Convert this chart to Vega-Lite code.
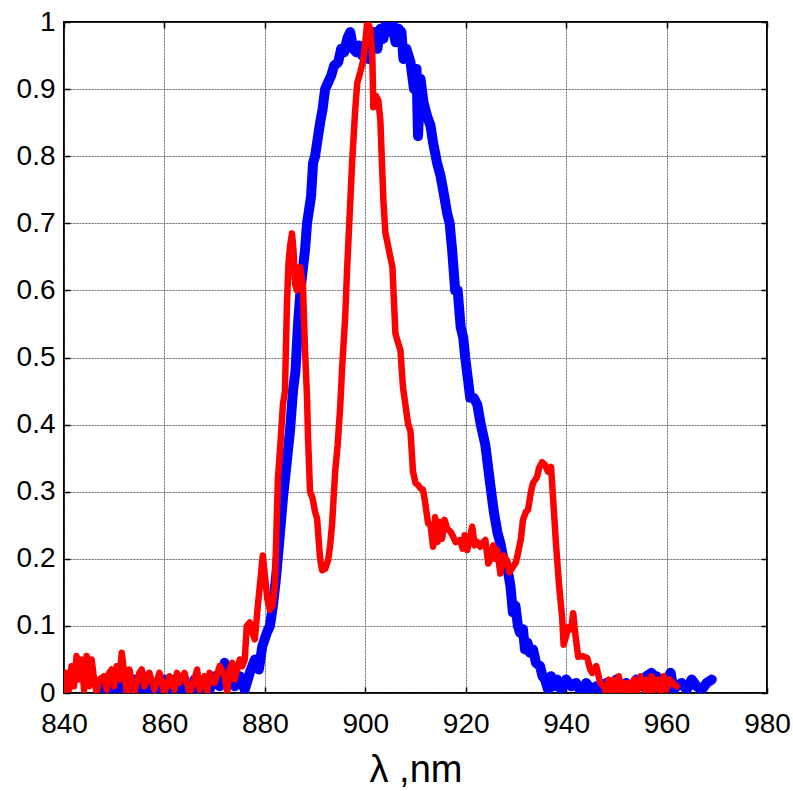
{
  "$schema": "https://vega.github.io/schema/vega-lite/v6.json",
  "width": 703,
  "height": 671,
  "autosize": "none",
  "padding": {"left": 64, "top": 22, "right": 26, "bottom": 98},
  "background": "white",
  "config": {
    "view": {"stroke": "#000000", "strokeWidth": 2},
    "font": "Liberation Sans",
    "axis": {
      "domain": false,
      "labelFont": "Liberation Sans",
      "labelFontSize": 28,
      "labelColor": "#000000",
      "tickColor": "#000000",
      "tickWidth": 1.5,
      "tickSize": -6,
      "gridColor": "#444444",
      "gridDash": [2, 1],
      "gridWidth": 0.8,
      "gridOpacity": 1,
      "titleFont": "Liberation Sans",
      "titleColor": "#000000",
      "titleFontWeight": "normal"
    }
  },
  "datasets": {
    "blue": [
      {"lambda": 847, "value": 0.0}, {"lambda": 848, "value": 0.02}, {"lambda": 849, "value": 0.005}, {"lambda": 850, "value": 0.02},
      {"lambda": 851, "value": 0.0}, {"lambda": 852, "value": 0.015}, {"lambda": 853, "value": 0.0}, {"lambda": 854, "value": 0.02},
      {"lambda": 855, "value": 0.005}, {"lambda": 856, "value": 0.025}, {"lambda": 857, "value": 0.0}, {"lambda": 858, "value": 0.015},
      {"lambda": 859, "value": 0.0}, {"lambda": 860, "value": 0.02}, {"lambda": 861, "value": 0.005}, {"lambda": 862, "value": 0.02},
      {"lambda": 863, "value": 0.0}, {"lambda": 864, "value": 0.015}, {"lambda": 865, "value": 0.005}, {"lambda": 866, "value": 0.02},
      {"lambda": 867, "value": 0.0}, {"lambda": 868, "value": 0.02}, {"lambda": 869, "value": 0.005}, {"lambda": 870, "value": 0.025},
      {"lambda": 871, "value": 0.01}, {"lambda": 872, "value": 0.045}, {"lambda": 873, "value": 0.02}, {"lambda": 874, "value": 0.01},
      {"lambda": 875, "value": 0.025}, {"lambda": 876, "value": 0.005}, {"lambda": 877, "value": 0.03}, {"lambda": 878, "value": 0.05},
      {"lambda": 878.8, "value": 0.035}, {"lambda": 879.5, "value": 0.07}, {"lambda": 880.4, "value": 0.09}, {"lambda": 881, "value": 0.1},
      {"lambda": 881.6, "value": 0.13}, {"lambda": 882.2, "value": 0.17}, {"lambda": 882.8, "value": 0.22}, {"lambda": 883.6, "value": 0.29},
      {"lambda": 884.3, "value": 0.34}, {"lambda": 885, "value": 0.39}, {"lambda": 885.6, "value": 0.45}, {"lambda": 886.1, "value": 0.48},
      {"lambda": 886.6, "value": 0.55}, {"lambda": 887.1, "value": 0.6}, {"lambda": 887.6, "value": 0.635}, {"lambda": 888, "value": 0.66},
      {"lambda": 888.4, "value": 0.7}, {"lambda": 888.8, "value": 0.72}, {"lambda": 889.2, "value": 0.74}, {"lambda": 889.6, "value": 0.79},
      {"lambda": 890, "value": 0.8}, {"lambda": 890.6, "value": 0.83}, {"lambda": 891, "value": 0.85}, {"lambda": 891.5, "value": 0.87},
      {"lambda": 892, "value": 0.9}, {"lambda": 892.6, "value": 0.91}, {"lambda": 893.2, "value": 0.92}, {"lambda": 893.8, "value": 0.935},
      {"lambda": 894.6, "value": 0.94}, {"lambda": 895.2, "value": 0.96}, {"lambda": 895.8, "value": 0.955}, {"lambda": 896.4, "value": 0.975},
      {"lambda": 897, "value": 0.985}, {"lambda": 897.6, "value": 0.96}, {"lambda": 898.2, "value": 0.955}, {"lambda": 898.8, "value": 0.965},
      {"lambda": 899.4, "value": 0.95}, {"lambda": 900, "value": 0.96}, {"lambda": 900.6, "value": 0.945}, {"lambda": 901.2, "value": 0.97},
      {"lambda": 901.8, "value": 0.985}, {"lambda": 902.4, "value": 0.96}, {"lambda": 903, "value": 0.99}, {"lambda": 903.6, "value": 0.975},
      {"lambda": 904.2, "value": 1.0}, {"lambda": 904.8, "value": 0.985}, {"lambda": 905.4, "value": 1.0}, {"lambda": 906, "value": 0.97},
      {"lambda": 906.6, "value": 0.99}, {"lambda": 907.2, "value": 0.985}, {"lambda": 907.6, "value": 0.945}, {"lambda": 908.2, "value": 0.96},
      {"lambda": 909, "value": 0.94}, {"lambda": 909.7, "value": 0.9}, {"lambda": 910.2, "value": 0.93}, {"lambda": 910.5, "value": 0.83},
      {"lambda": 911, "value": 0.915}, {"lambda": 911.6, "value": 0.88}, {"lambda": 912.3, "value": 0.86}, {"lambda": 913, "value": 0.845},
      {"lambda": 913.5, "value": 0.82}, {"lambda": 914.3, "value": 0.79}, {"lambda": 915, "value": 0.77}, {"lambda": 915.5, "value": 0.75},
      {"lambda": 916.3, "value": 0.715}, {"lambda": 916.8, "value": 0.7}, {"lambda": 917.3, "value": 0.66}, {"lambda": 917.9, "value": 0.6},
      {"lambda": 918.4, "value": 0.6}, {"lambda": 919, "value": 0.545}, {"lambda": 919.5, "value": 0.53}, {"lambda": 919.9, "value": 0.5},
      {"lambda": 920.4, "value": 0.47}, {"lambda": 920.9, "value": 0.44}, {"lambda": 921.6, "value": 0.44}, {"lambda": 922.3, "value": 0.43},
      {"lambda": 923, "value": 0.4}, {"lambda": 923.9, "value": 0.37}, {"lambda": 924.4, "value": 0.34}, {"lambda": 924.9, "value": 0.31},
      {"lambda": 925.6, "value": 0.27}, {"lambda": 926.3, "value": 0.24}, {"lambda": 927, "value": 0.22}, {"lambda": 927.5, "value": 0.2},
      {"lambda": 928.2, "value": 0.19}, {"lambda": 928.9, "value": 0.16}, {"lambda": 929.4, "value": 0.12}, {"lambda": 929.9, "value": 0.13},
      {"lambda": 930.4, "value": 0.1}, {"lambda": 930.8, "value": 0.09}, {"lambda": 931.4, "value": 0.095}, {"lambda": 931.8, "value": 0.065},
      {"lambda": 932.3, "value": 0.075}, {"lambda": 932.8, "value": 0.06}, {"lambda": 933.4, "value": 0.065}, {"lambda": 934, "value": 0.045},
      {"lambda": 934.8, "value": 0.04}, {"lambda": 935.3, "value": 0.025}, {"lambda": 935.8, "value": 0.02}, {"lambda": 936.4, "value": 0.005},
      {"lambda": 937, "value": 0.025}, {"lambda": 937.6, "value": 0.01}, {"lambda": 938.2, "value": 0.02}, {"lambda": 939, "value": 0.005},
      {"lambda": 940, "value": 0.02}, {"lambda": 941, "value": 0.01}, {"lambda": 942, "value": 0.015}, {"lambda": 943, "value": 0.0},
      {"lambda": 944, "value": 0.015}, {"lambda": 945, "value": 0.005}, {"lambda": 946, "value": 0.01}, {"lambda": 947, "value": 0.0},
      {"lambda": 948, "value": 0.015}, {"lambda": 949, "value": 0.005}, {"lambda": 950, "value": 0.02}, {"lambda": 951, "value": 0.01},
      {"lambda": 952, "value": 0.015}, {"lambda": 953, "value": 0.005}, {"lambda": 954, "value": 0.02}, {"lambda": 955, "value": 0.01},
      {"lambda": 956, "value": 0.025}, {"lambda": 957, "value": 0.03}, {"lambda": 957.6, "value": 0.01}, {"lambda": 958, "value": 0.025},
      {"lambda": 959, "value": 0.01}, {"lambda": 960, "value": 0.02}, {"lambda": 960.8, "value": 0.03}, {"lambda": 961.4, "value": 0.005},
      {"lambda": 962, "value": 0.01}, {"lambda": 963, "value": 0.015}, {"lambda": 964, "value": 0.005}, {"lambda": 965, "value": 0.02},
      {"lambda": 966, "value": 0.01}, {"lambda": 967, "value": 0.005}, {"lambda": 968, "value": 0.015}, {"lambda": 969, "value": 0.02}
    ],
    "red": [
      {"lambda": 840, "value": 0.0}, {"lambda": 840.5, "value": 0.03}, {"lambda": 841, "value": 0.005}, {"lambda": 841.5, "value": 0.04},
      {"lambda": 842, "value": 0.01}, {"lambda": 842.5, "value": 0.055}, {"lambda": 843, "value": 0.02}, {"lambda": 843.5, "value": 0.05},
      {"lambda": 844, "value": 0.005}, {"lambda": 844.5, "value": 0.055}, {"lambda": 845, "value": 0.01}, {"lambda": 845.5, "value": 0.05},
      {"lambda": 846, "value": 0.02}, {"lambda": 846.5, "value": 0.0}, {"lambda": 847, "value": 0.02}, {"lambda": 848, "value": 0.025},
      {"lambda": 848.5, "value": 0.005}, {"lambda": 849, "value": 0.03}, {"lambda": 849.5, "value": 0.035}, {"lambda": 850, "value": 0.01},
      {"lambda": 850.5, "value": 0.04}, {"lambda": 851, "value": 0.02}, {"lambda": 851.5, "value": 0.06}, {"lambda": 852, "value": 0.03},
      {"lambda": 852.5, "value": 0.0}, {"lambda": 853, "value": 0.035}, {"lambda": 854, "value": 0.0}, {"lambda": 855, "value": 0.03},
      {"lambda": 855.5, "value": 0.035}, {"lambda": 856, "value": 0.01}, {"lambda": 857, "value": 0.03}, {"lambda": 858, "value": 0.005},
      {"lambda": 859, "value": 0.03}, {"lambda": 860, "value": 0.0}, {"lambda": 861, "value": 0.025}, {"lambda": 862, "value": 0.005},
      {"lambda": 862.5, "value": 0.03}, {"lambda": 863, "value": 0.015}, {"lambda": 864, "value": 0.03}, {"lambda": 865, "value": 0.0},
      {"lambda": 866, "value": 0.02}, {"lambda": 866.5, "value": 0.035}, {"lambda": 867, "value": 0.005}, {"lambda": 868, "value": 0.025},
      {"lambda": 868.5, "value": 0.0}, {"lambda": 869, "value": 0.03}, {"lambda": 870, "value": 0.015}, {"lambda": 871, "value": 0.04},
      {"lambda": 872, "value": 0.025}, {"lambda": 872.5, "value": 0.0}, {"lambda": 873, "value": 0.035}, {"lambda": 873.5, "value": 0.045},
      {"lambda": 874, "value": 0.02}, {"lambda": 875, "value": 0.05}, {"lambda": 875.5, "value": 0.04}, {"lambda": 876, "value": 0.05},
      {"lambda": 876.4, "value": 0.1}, {"lambda": 877, "value": 0.105}, {"lambda": 877.5, "value": 0.09}, {"lambda": 878, "value": 0.08},
      {"lambda": 878.6, "value": 0.13}, {"lambda": 879, "value": 0.16}, {"lambda": 879.6, "value": 0.205}, {"lambda": 880, "value": 0.175},
      {"lambda": 880.5, "value": 0.14}, {"lambda": 881, "value": 0.124}, {"lambda": 881.5, "value": 0.13}, {"lambda": 882, "value": 0.16},
      {"lambda": 882.3, "value": 0.24}, {"lambda": 882.6, "value": 0.32}, {"lambda": 883, "value": 0.36}, {"lambda": 883.6, "value": 0.43},
      {"lambda": 884, "value": 0.45}, {"lambda": 884.4, "value": 0.58}, {"lambda": 884.7, "value": 0.64}, {"lambda": 885, "value": 0.665},
      {"lambda": 885.4, "value": 0.685}, {"lambda": 885.7, "value": 0.66}, {"lambda": 886, "value": 0.61}, {"lambda": 886.4, "value": 0.6},
      {"lambda": 887, "value": 0.635}, {"lambda": 887.6, "value": 0.605}, {"lambda": 888, "value": 0.51}, {"lambda": 888.4, "value": 0.44},
      {"lambda": 888.6, "value": 0.38}, {"lambda": 889, "value": 0.3}, {"lambda": 889.5, "value": 0.29}, {"lambda": 890, "value": 0.27},
      {"lambda": 890.4, "value": 0.26}, {"lambda": 891, "value": 0.2}, {"lambda": 891.4, "value": 0.183}, {"lambda": 892, "value": 0.185},
      {"lambda": 892.6, "value": 0.198}, {"lambda": 893, "value": 0.22}, {"lambda": 893.4, "value": 0.253}, {"lambda": 894, "value": 0.33},
      {"lambda": 894.5, "value": 0.37}, {"lambda": 895, "value": 0.426}, {"lambda": 895.4, "value": 0.486}, {"lambda": 896, "value": 0.56},
      {"lambda": 896.4, "value": 0.635}, {"lambda": 897, "value": 0.73}, {"lambda": 897.4, "value": 0.794}, {"lambda": 898, "value": 0.87},
      {"lambda": 898.4, "value": 0.909}, {"lambda": 899, "value": 0.925}, {"lambda": 899.6, "value": 0.943}, {"lambda": 900, "value": 0.97},
      {"lambda": 900.4, "value": 1.0}, {"lambda": 901, "value": 0.99}, {"lambda": 901.4, "value": 0.95}, {"lambda": 901.6, "value": 0.873},
      {"lambda": 902.1, "value": 0.89}, {"lambda": 902.6, "value": 0.883}, {"lambda": 903, "value": 0.854}, {"lambda": 903.6, "value": 0.735},
      {"lambda": 904, "value": 0.686}, {"lambda": 905.4, "value": 0.635}, {"lambda": 906, "value": 0.536}, {"lambda": 906.4, "value": 0.525},
      {"lambda": 907, "value": 0.511}, {"lambda": 907.5, "value": 0.456}, {"lambda": 908.5, "value": 0.402}, {"lambda": 909, "value": 0.39},
      {"lambda": 909.5, "value": 0.33}, {"lambda": 910, "value": 0.313}, {"lambda": 910.5, "value": 0.31}, {"lambda": 911, "value": 0.305},
      {"lambda": 911.5, "value": 0.303}, {"lambda": 912, "value": 0.28}, {"lambda": 912.5, "value": 0.253}, {"lambda": 913, "value": 0.25},
      {"lambda": 913.5, "value": 0.218}, {"lambda": 913.9, "value": 0.262}, {"lambda": 914.4, "value": 0.225}, {"lambda": 914.8, "value": 0.255},
      {"lambda": 915.3, "value": 0.23}, {"lambda": 915.8, "value": 0.258}, {"lambda": 916.3, "value": 0.245}, {"lambda": 917, "value": 0.24},
      {"lambda": 917.5, "value": 0.233}, {"lambda": 918, "value": 0.225}, {"lambda": 918.9, "value": 0.228}, {"lambda": 919.4, "value": 0.215},
      {"lambda": 919.8, "value": 0.235}, {"lambda": 920.3, "value": 0.213}, {"lambda": 920.8, "value": 0.23}, {"lambda": 921.3, "value": 0.248},
      {"lambda": 921.8, "value": 0.22}, {"lambda": 922.3, "value": 0.225}, {"lambda": 922.9, "value": 0.218}, {"lambda": 923.5, "value": 0.225},
      {"lambda": 923.9, "value": 0.228}, {"lambda": 924.5, "value": 0.193}, {"lambda": 925, "value": 0.2}, {"lambda": 925.5, "value": 0.22},
      {"lambda": 926, "value": 0.2}, {"lambda": 926.3, "value": 0.213}, {"lambda": 926.9, "value": 0.178}, {"lambda": 927.5, "value": 0.205},
      {"lambda": 928.2, "value": 0.198}, {"lambda": 928.7, "value": 0.18}, {"lambda": 929.4, "value": 0.188}, {"lambda": 930, "value": 0.195},
      {"lambda": 930.4, "value": 0.208}, {"lambda": 931, "value": 0.23}, {"lambda": 931.4, "value": 0.258}, {"lambda": 932, "value": 0.27},
      {"lambda": 932.4, "value": 0.273}, {"lambda": 933, "value": 0.3}, {"lambda": 933.4, "value": 0.313}, {"lambda": 934.2, "value": 0.322},
      {"lambda": 934.6, "value": 0.335}, {"lambda": 935.2, "value": 0.344}, {"lambda": 935.8, "value": 0.34}, {"lambda": 936.4, "value": 0.33},
      {"lambda": 937, "value": 0.337}, {"lambda": 937.4, "value": 0.29}, {"lambda": 938, "value": 0.22}, {"lambda": 938.6, "value": 0.16},
      {"lambda": 939.2, "value": 0.113}, {"lambda": 939.5, "value": 0.072}, {"lambda": 940, "value": 0.085}, {"lambda": 940.4, "value": 0.098},
      {"lambda": 941, "value": 0.095}, {"lambda": 941.4, "value": 0.119}, {"lambda": 941.8, "value": 0.089}, {"lambda": 942.4, "value": 0.054},
      {"lambda": 943.2, "value": 0.055}, {"lambda": 944.2, "value": 0.052}, {"lambda": 944.8, "value": 0.035}, {"lambda": 945.2, "value": 0.03},
      {"lambda": 946, "value": 0.04}, {"lambda": 946.8, "value": 0.015}, {"lambda": 947.5, "value": 0.01}, {"lambda": 948, "value": 0.0},
      {"lambda": 948.5, "value": 0.02}, {"lambda": 949, "value": 0.005}, {"lambda": 949.5, "value": 0.02}, {"lambda": 950, "value": 0.0},
      {"lambda": 950.5, "value": 0.025}, {"lambda": 951, "value": 0.005}, {"lambda": 951.5, "value": 0.015}, {"lambda": 952, "value": 0.0},
      {"lambda": 952.5, "value": 0.015}, {"lambda": 953, "value": 0.005}, {"lambda": 953.5, "value": 0.02}, {"lambda": 954, "value": 0.0},
      {"lambda": 954.8, "value": 0.025}, {"lambda": 955.5, "value": 0.005}, {"lambda": 956, "value": 0.02}, {"lambda": 956.5, "value": 0.0},
      {"lambda": 957, "value": 0.025}, {"lambda": 957.6, "value": 0.005}, {"lambda": 958.2, "value": 0.02}, {"lambda": 958.8, "value": 0.0},
      {"lambda": 959.4, "value": 0.025}, {"lambda": 960, "value": 0.005}, {"lambda": 960.6, "value": 0.02}, {"lambda": 961.2, "value": 0.015},
      {"lambda": 962, "value": 0.01}
    ]
  },
  "layer": [
    {
      "data": {"name": "blue"},
      "mark": {"type": "line", "color": "#0000ff", "strokeWidth": 10, "strokeJoin": "round", "strokeCap": "round", "clip": true},
      "encoding": {
        "x": {
          "field": "lambda", "type": "quantitative",
          "scale": {"domain": [840, 980], "nice": false, "zero": false},
          "axis": {
            "orient": "bottom", "values": [840, 860, 880, 900, 920, 940, 960, 980],
            "grid": true, "labelPadding": 23, "labelFlush": false,
            "title": "λ ,nm", "titleFontSize": 38, "titleBaseline": "alphabetic", "titleY": 88, "titlePadding": 0
          }
        },
        "y": {
          "field": "value", "type": "quantitative",
          "scale": {"domain": [0, 1], "nice": false, "zero": false},
          "axis": {
            "orient": "left", "values": [0, 0.1, 0.2, 0.3, 0.4, 0.5, 0.6, 0.7, 0.8, 0.9, 1],
            "grid": true, "labelPadding": 15, "labelFlush": false, "title": null,
            "labelExpr": "datum.value == 0 ? '0' : datum.value == 1 ? '1' : format(datum.value, '.1f')"
          }
        }
      }
    },
    {
      "data": {"name": "red"},
      "mark": {"type": "line", "color": "#ff0000", "strokeWidth": 6.5, "strokeJoin": "round", "strokeCap": "round", "clip": true},
      "encoding": {
        "x": {
          "field": "lambda", "type": "quantitative",
          "scale": {"domain": [840, 980], "nice": false, "zero": false},
          "axis": {"orient": "top", "values": [840, 860, 880, 900, 920, 940, 960, 980], "grid": false, "labels": false, "title": null}
        },
        "y": {
          "field": "value", "type": "quantitative",
          "scale": {"domain": [0, 1], "nice": false, "zero": false},
          "axis": {"orient": "right", "values": [0, 0.1, 0.2, 0.3, 0.4, 0.5, 0.6, 0.7, 0.8, 0.9, 1], "grid": false, "labels": false, "title": null}
        }
      }
    }
  ],
  "resolve": {"axis": {"x": "independent", "y": "independent"}}
}
